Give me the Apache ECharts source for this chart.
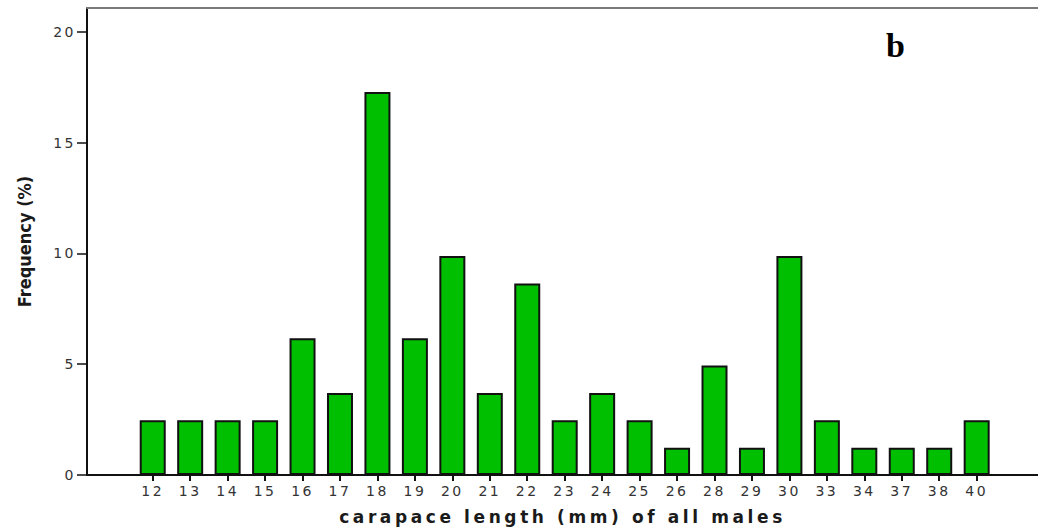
<!DOCTYPE html>
<html>
<head>
<meta charset="utf-8">
<script src="https://cdn.jsdelivr.net/npm/echarts@6/dist/echarts.min.js"></script>
<style>
  html, body { margin: 0; padding: 0; background: #fff; }
  #chart { width: 1038px; height: 531px; }
</style>
</head>
<body>
<div id="chart"></div>
<script>
// Carapace length classes (mm) and share of all males in each class (%)
const lengthClasses = ['12','13','14','15','16','17','18','19','20','21','22','23','24','25','26','28','29','30','33','34','37','38','40'];
const frequencyPct = [2.47,2.47,2.47,2.47,6.17,3.70,17.28,6.17,9.88,3.70,8.64,2.47,3.70,2.47,1.23,4.94,1.23,9.88,2.47,1.23,1.23,1.23,2.47];
const yTicks = [0, 5, 10, 15, 20];

const X_TITLE = 'carapace length (mm) of all males';
const Y_TITLE = 'Frequency (%)';
const PANEL_TAG = 'b';

const Y_MAX = 21.07;
const TOP = 8, BOTTOM = 56;
const tickFont = { fontFamily: 'DejaVu Sans', fontSize: 14, color: '#333' };

const chart = echarts.init(document.getElementById('chart'), null, { renderer: 'svg' });

chart.setOption({
  animation: false,
  backgroundColor: '#ffffff',
  grid: [
    // frame with the frequency axis
    { left: 87, right: -4, top: TOP, bottom: BOTTOM },
    // band holding the bars
    { left: 134, width: 861.4, top: TOP, bottom: BOTTOM }
  ],
  xAxis: [
    {
      gridIndex: 0, type: 'value', position: 'bottom', min: 0, max: 1,
      axisLine: { show: true, lineStyle: { color: '#111', width: 2 } },
      axisTick: { show: false }, axisLabel: { show: false }, splitLine: { show: false },
      name: X_TITLE, nameLocation: 'middle', nameGap: 33,
      nameTextStyle: { fontFamily: 'DejaVu Sans', fontWeight: 'bold', fontSize: 17, color: '#1a1a1a' }
    },
    {
      gridIndex: 0, type: 'value', position: 'top', min: 0, max: 1,
      axisLine: { show: true, lineStyle: { color: '#7a7a7a', width: 2 } },
      axisTick: { show: false }, axisLabel: { show: false }, splitLine: { show: false }
    },
    {
      gridIndex: 1, type: 'category', data: lengthClasses, position: 'bottom',
      axisLine: { show: false },
      axisTick: { show: true, alignWithLabel: true, length: 6, lineStyle: { color: '#111', width: 2 } },
      axisLabel: Object.assign({ margin: 9 }, tickFont),
      splitLine: { show: false }
    }
  ],
  yAxis: [
    {
      gridIndex: 0, type: 'value', min: 0, max: Y_MAX,
      axisLine: { show: true, lineStyle: { color: '#111', width: 2 } },
      axisTick: { show: true, length: 10, customValues: yTicks, lineStyle: { color: '#111', width: 1.5 } },
      axisLabel: Object.assign({ margin: 11, customValues: yTicks }, tickFont),
      splitLine: { show: false },
      name: Y_TITLE, nameLocation: 'middle', nameGap: 54,
      nameTextStyle: { fontFamily: 'DejaVu Sans Condensed', fontWeight: 'bold', fontSize: 18, color: '#1a1a1a' }
    },
    {
      gridIndex: 1, type: 'value', min: 0, max: Y_MAX, show: false,
      splitLine: { show: false }
    }
  ],
  series: [
    {
      type: 'bar', xAxisIndex: 2, yAxisIndex: 1,
      data: frequencyPct,
      barWidth: 26,
      itemStyle: { color: '#00bf00', borderColor: '#111', borderWidth: 2 }
    }
  ],
  graphic: [
    {
      type: 'text', left: 886, top: 28,
      style: { text: PANEL_TAG, fontFamily: 'Liberation Serif', fontWeight: 'bold', fontSize: 34, fill: '#000' }
    }
  ]
});

// Widen the tracking of the axis texts (tick labels and the x title)
function applyTracking() {
  document.querySelectorAll('#chart text').forEach(function (el) {
    const t = el.textContent;
    if (t === PANEL_TAG || t === Y_TITLE) {
      el.style.letterSpacing = '0px';
    } else if (t === X_TITLE) {
      el.style.letterSpacing = '3.6px';
    } else {
      el.style.letterSpacing = '2.5px';
    }
  });
}
applyTracking();
chart.on('finished', applyTracking);
</script>
</body>
</html>
